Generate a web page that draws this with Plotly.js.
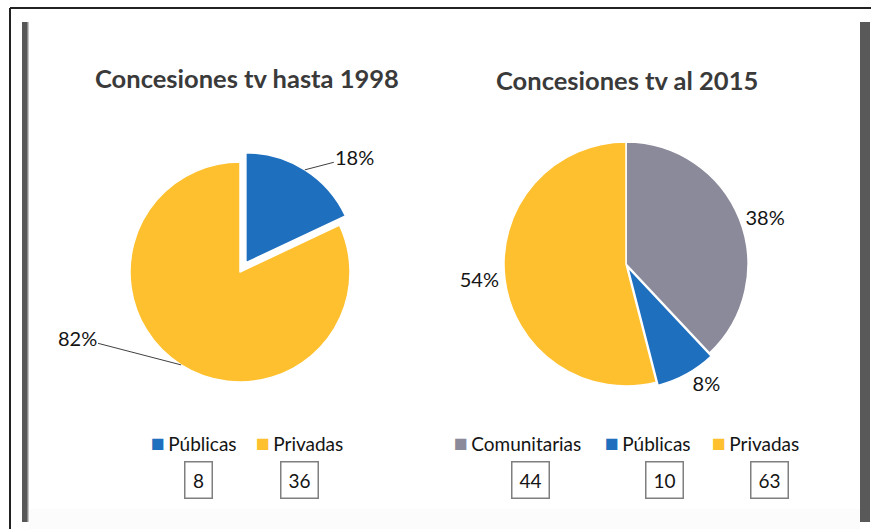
<!DOCTYPE html>
<html><head><meta charset="utf-8">
<script src="https://cdn.plot.ly/plotly-3.0.1.min.js"></script>
<style>html,body{margin:0;padding:0;background:#fff}#chart{width:871px;height:529px}</style>
</head><body><div id="chart"></div>
<script>
// ---------- data ----------
const titles = ['Concesiones tv hasta 1998', 'Concesiones tv al 2015'];
const labels1998 = ['Públicas', 'Privadas'];
const shares1998 = [18, 82];          // % shown on the pie
const counts1998 = [8, 36];           // boxed counts
const labels2015 = ['Comunitarias', 'Públicas', 'Privadas'];
const shares2015 = [38, 8, 54];       // % shown on the pie
const counts2015 = [44, 10, 63];      // boxed counts

// ---------- styles / layout config ----------
const colorMap = {'Comunitarias': '#8B8A9B', 'Públicas': '#1F6FBF', 'Privadas': '#FEC02F'};
const W = 871, H = 529;
const FONT = 'Lato, "Open Sans", sans-serif';
const TXT = '#141414';

const pie1 = {cx: 240, cy: 272, r: 110, pull: [0.1, 0]};
const pie2 = {cx: 626, cy: 264, r: 122, pull: [0, 0.03, 0]};
const titlePos = [[247, 78], [627, 80]];
const leaderOffsets = [[50, -13], [-104, -27]];
const legendItemX = [[149, 254], [452, 603, 710]];
const legendY = 442;
const boxX = [[198, 299.5], [530.5, 664, 769]];
const boxY = 480;

function px2x(x) { return x / W; }
function px2y(y) { return 1 - y / H; }
function domainOf(p) {
  const half = p.r * (1 + Math.max(...p.pull));
  return {x: [px2x(p.cx - half), px2x(p.cx + half)], y: [px2y(p.cy + half), px2y(p.cy - half)]};
}

const trace1 = {
  type: 'pie', labels: labels1998, values: shares1998, sort: false,
  direction: 'clockwise', rotation: 0, pull: pie1.pull, domain: domainOf(pie1),
  marker: {colors: labels1998.map(l => colorMap[l]), line: {color: '#ffffff', width: 1.5}},
  textinfo: 'none', showlegend: false, hoverinfo: 'label+value+percent'
};
const trace2 = {
  type: 'pie', labels: labels2015, values: shares2015, sort: false,
  direction: 'clockwise', rotation: 0, pull: pie2.pull, domain: domainOf(pie2),
  marker: {colors: labels2015.map(l => colorMap[l]), line: {color: '#ffffff', width: 1.5}},
  textposition: 'outside', texttemplate: '%{percent:.0%}',
  outsidetextfont: {family: FONT, size: 20, color: TXT},
  showlegend: false, hoverinfo: 'label+value+percent'
};

const annotations = [];
// titles
titles.forEach((t, i) => annotations.push({
  xref: 'paper', yref: 'paper', x: px2x(titlePos[i][0]), y: px2y(titlePos[i][1]),
  xanchor: 'center', yanchor: 'middle', showarrow: false, text: '<b>' + t + '</b>',
  font: {family: FONT, size: 25.5, color: '#3A3A3A'}
}));
// left pie labels with leader lines
const total1 = shares1998.reduce((a, b) => a + b, 0);
let cum = 0;
shares1998.forEach((v, i) => {
  const mid = (cum + v / 2) / total1 * 2 * Math.PI; cum += v;
  const d = pie1.r * (1 + pie1.pull[i]);
  const x = pie1.cx + d * Math.sin(mid), y = pie1.cy - d * Math.cos(mid);
  annotations.push({
    xref: 'paper', yref: 'paper', x: px2x(x), y: px2y(y),
    text: Math.round(v / total1 * 100) + '%', showarrow: true, arrowhead: 0,
    arrowwidth: 1, arrowcolor: '#404040', ax: leaderOffsets[i][0], ay: leaderOffsets[i][1],
    standoff: 0, font: {family: FONT, size: 20, color: TXT}
  });
});
// legends and count boxes
[[labels1998, counts1998], [labels2015, counts2015]].forEach(([labs, vals], k) => {
  labs.forEach((l, i) => {
    annotations.push({
      xref: 'paper', yref: 'paper', x: px2x(legendItemX[k][i]), y: px2y(legendY),
      xanchor: 'left', yanchor: 'middle', showarrow: false,
      text: '<span style="color:' + colorMap[l] + ';font-size:23px">■</span>' +
            '<span style="font-size:13px"> </span>' + l,
      font: {family: FONT, size: 19, color: TXT}
    });
    annotations.push({
      xref: 'paper', yref: 'paper', x: px2x(boxX[k][i]), y: px2y(boxY),
      xanchor: 'center', yanchor: 'middle', showarrow: false, text: String(vals[i]),
      width: String(vals[i]).length > 1 ? 34 : 24, height: 33, borderpad: 1,
      bordercolor: '#7F7F7F', borderwidth: 1.5, align: 'center', valign: 'middle',
      font: {family: FONT, size: 19, color: TXT}
    });
  });
});

function rect(x0, y0, x1, y1, fill) {
  return {type: 'rect', xref: 'paper', yref: 'paper', x0: px2x(x0), x1: px2x(x1), y0: px2y(y1), y1: px2y(y0),
          fillcolor: fill, line: {width: 0}, layer: 'below'};
}
function line(x0, y0, x1, y1, color, w) {
  return {type: 'line', xref: 'paper', yref: 'paper', x0: px2x(x0), x1: px2x(x1), y0: px2y(y0), y1: px2y(y1),
          line: {color: color, width: w}};
}
const shapes = [
  rect(29, 509, 860, 529, '#FCFCFC'),
  line(10, 8, 871, 8, '#222222', 2),
  line(10, 8, 10, 529, '#222222', 2),
  rect(22, 22, 28, 522, '#575757'),
  rect(27, 22, 28.5, 522, '#8A8A8A'),
  rect(860, 22, 870, 522, '#595959')
];

const layout = {
  width: W, height: H, margin: {l: 0, r: 0, t: 0, b: 0},
  paper_bgcolor: '#ffffff', plot_bgcolor: '#ffffff',
  showlegend: false, annotations: annotations, shapes: shapes,
  font: {family: FONT, color: TXT}
};
Plotly.newPlot('chart', [trace1, trace2], layout, {displayModeBar: false, staticPlot: true});
</script>
</body></html>
